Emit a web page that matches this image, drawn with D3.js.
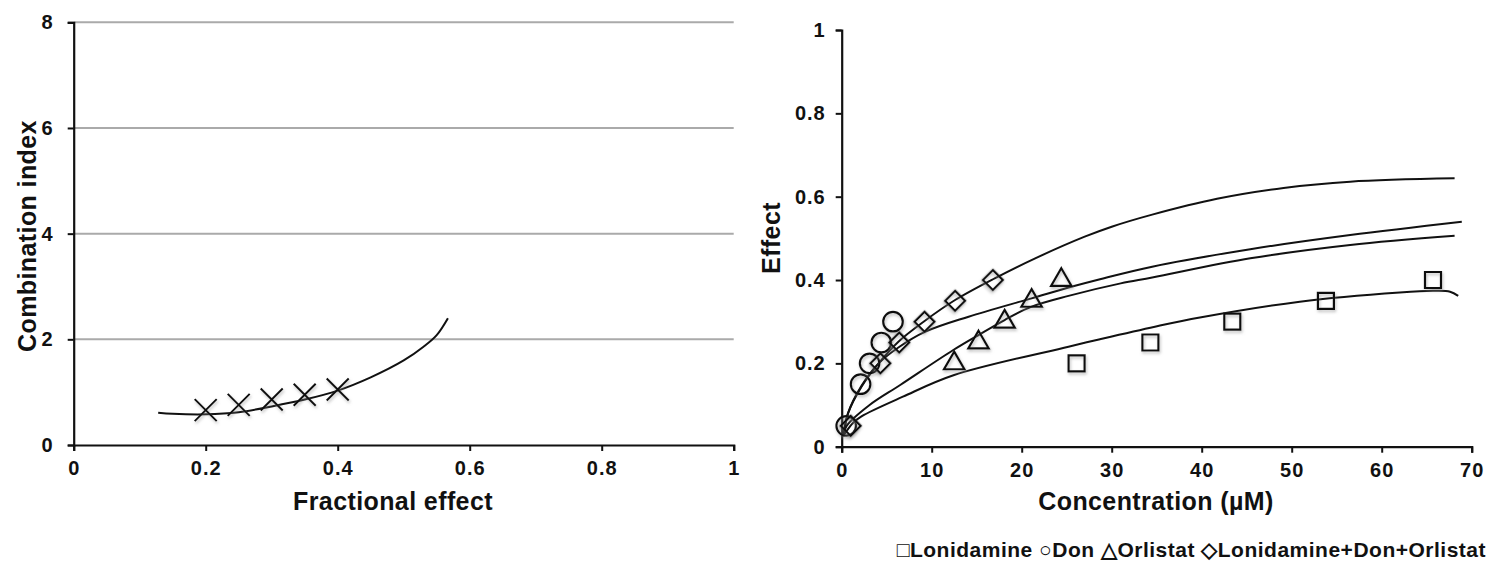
<html>
<head>
<meta charset="utf-8">
<script src="https://d3js.org/d3.v7.min.js"></script>
<style>
    body { margin: 0; background: #fff; }
    svg { font-family: "Liberation Sans", Arial, sans-serif; }
    .tick text { font-weight: bold; font-size: 20px; letter-spacing: 1px; fill: #111; }
    .title { font-weight: bold; font-size: 25px; letter-spacing: 0.4px; fill: #111; }
    .legend { font-weight: bold; font-size: 21px; letter-spacing: 0.5px; fill: #111; }
</style>
</head>
<body>
<script>
// ---- left panel: combination index vs fractional effect
var ciTicksX = [0, 0.2, 0.4, 0.6, 0.8, 1];
var ciTicksY = [0, 2, 4, 6, 8];
var ciPointsFa = [0.2, 0.25, 0.3, 0.35, 0.4];
var ciPointsCI = [0.66, 0.76, 0.86, 0.95, 1.05];
var ciCurveFa = [0.128, 0.15, 0.2, 0.25, 0.3, 0.35, 0.4, 0.45, 0.5, 0.53, 0.55, 0.567];
var ciCurveCI = [0.61, 0.59, 0.58, 0.62, 0.73, 0.86, 1.03, 1.28, 1.60, 1.86, 2.08, 2.40];

// ---- right panel: dose-effect
var concTicks = [0, 10, 20, 30, 40, 50, 60, 70];
var effTicks = [0, 0.2, 0.4, 0.6, 0.8, 1];
var lonConc = [26.1, 34.3, 43.4, 53.8, 65.7];
var lonEff = [0.2, 0.25, 0.3, 0.35, 0.4];
var donConc = [0.5, 2.1, 3.1, 4.4, 5.7];
var donEff = [0.05, 0.15, 0.2, 0.25, 0.3];
var orlConc = [12.5, 15.2, 18.1, 21.1, 24.4];
var orlEff = [0.2, 0.25, 0.3, 0.35, 0.4];
var comboConc = [1.0, 4.3, 6.4, 9.2, 12.6, 16.8];
var comboEff = [0.05, 0.2, 0.25, 0.3, 0.35, 0.4];

// fitted curves
var fitCombo = [[0.2,0.025],[0.7,0.08],[2.2,0.144],[4.1,0.2],[6.3,0.252],[9.1,0.3],[12.6,0.352],[17,0.404],[21.5,0.452],[27,0.504],[30,0.528],[34.5,0.557],[41.7,0.595],[49.1,0.621],[56.5,0.636],[68.1,0.644]];
var fitDon = [[0.2,0.025],[0.7,0.08],[2.2,0.146],[4.1,0.2],[6.3,0.238],[9.3,0.276],[14.1,0.312],[21.1,0.356],[25.2,0.382],[28.7,0.402],[34.5,0.432],[45.4,0.474],[56.5,0.508],[68.9,0.54]];
var fitOrl = [[0.2,0.03],[0.55,0.05],[3.1,0.1],[6.5,0.148],[12.4,0.232],[15.2,0.268],[18.1,0.304],[21.1,0.336],[25.2,0.362],[31,0.392],[34.5,0.406],[45.4,0.452],[56.5,0.484],[68.1,0.506]];
var fitLon = [[0.3,0.03],[1.3,0.058],[2.2,0.073],[6.8,0.12],[12.5,0.172],[25.2,0.24],[28.7,0.258],[34.8,0.288],[39.8,0.31],[50.9,0.348],[62,0.37],[65.7,0.374],[67.6,0.372],[68.5,0.362]];

var legendText = "\u25A1Lonidamine \u25CBDon  \u25B3Orlistat \u25C7Lonidamine+Don+Orlistat";

var width = 1500, height = 575;

var svg = d3.select("body").append("svg")
    .attr("width", width)
    .attr("height", height);

var defs = svg.append("defs");
var f = defs.append("filter").attr("id", "shadow")
    .attr("x", "-50%").attr("y", "-50%").attr("width", "200%").attr("height", "200%");
f.append("feDropShadow").attr("dx", 1).attr("dy", 2).attr("stdDeviation", 1.5)
    .attr("flood-color", "#888").attr("flood-opacity", 0.55);

// ================= left =================
var x1 = d3.scaleLinear().domain([0, 1]).range([73.7, 733.7]);
var y1 = d3.scaleLinear().domain([0, 8]).range([445, 22.3]);

var g1 = svg.append("g");

g1.selectAll(".grid")
    .data(ciTicksY.filter(function(d) { return d > 0; }))
    .enter().append("line")
    .attr("x1", x1(0)).attr("x2", x1(1))
    .attr("y1", function(d) { return y1(d); })
    .attr("y2", function(d) { return y1(d); })
    .attr("stroke", "#aaa").attr("stroke-width", 2);

var ax1 = g1.append("g").attr("transform", "translate(0," + y1(0) + ")")
    .call(d3.axisBottom(x1).tickValues(ciTicksX).tickSize(6).tickPadding(10)
        .tickFormat(function(d) { return d3.format("")(d); }));
var ay1 = g1.append("g").attr("transform", "translate(" + x1(0) + ",0)")
    .call(d3.axisLeft(y1).tickValues(ciTicksY).tickSize(6).tickPadding(10));
[ax1, ay1].forEach(function(a) {
    a.select(".domain").attr("stroke", "#111").attr("stroke-width", 2.2);
    a.selectAll(".tick line").attr("stroke", "#111").attr("stroke-width", 2);
});
ay1.selectAll(".tick text").attr("dx", "-4");

var ciCurve = ciCurveFa.map(function(d, i) { return [d, ciCurveCI[i]]; });
g1.append("path")
    .datum(ciCurve)
    .attr("fill", "none").attr("stroke", "#111").attr("stroke-width", 2)
    .attr("d", d3.line()
        .x(function(d) { return x1(d[0]); })
        .y(function(d) { return y1(d[1]); })
        .curve(d3.curveCatmullRom));

var xs = 11;
g1.selectAll(".xmark")
    .data(ciPointsFa)
    .enter().append("path")
    .attr("filter", "url(#shadow)")
    .attr("fill", "none").attr("stroke", "#111").attr("stroke-width", 2)
    .attr("d", function(d, i) {
        var cx = x1(d), cy = y1(ciPointsCI[i]);
        return "M" + (cx - xs) + "," + (cy - xs) + "L" + (cx + xs) + "," + (cy + xs) +
               "M" + (cx - xs) + "," + (cy + xs) + "L" + (cx + xs) + "," + (cy - xs);
    });

g1.append("text").attr("class", "title")
    .attr("x", 393).attr("y", 510).attr("text-anchor", "middle")
    .text("Fractional effect");
g1.append("text").attr("class", "title")
    .attr("transform", "translate(36,236) rotate(-90)")
    .attr("text-anchor", "middle")
    .text("Combination index");

// ================= right =================
var x2 = d3.scaleLinear().domain([0, 70]).range([841.7, 1471.7]);
var y2 = d3.scaleLinear().domain([0, 1]).range([446.7, 30]);

var g2 = svg.append("g");

var ax2 = g2.append("g").attr("transform", "translate(0," + y2(0) + ")")
    .call(d3.axisBottom(x2).tickValues(concTicks).tickSize(6).tickPadding(10));
var ay2 = g2.append("g").attr("transform", "translate(" + x2(0) + ",0)")
    .call(d3.axisLeft(y2).tickValues(effTicks).tickSize(6).tickPadding(10)
        .tickFormat(function(d) { return d3.format("")(d); }));
[ax2, ay2].forEach(function(a) {
    a.select(".domain").attr("stroke", "#111").attr("stroke-width", 2.2);
    a.selectAll(".tick line").attr("stroke", "#111").attr("stroke-width", 2);
});

var line2 = d3.line()
    .x(function(d) { return x2(d[0]); })
    .y(function(d) { return y2(d[1]); })
    .curve(d3.curveCatmullRom);

g2.selectAll(".fit")
    .data([fitCombo, fitDon, fitOrl, fitLon])
    .enter().append("path")
    .attr("fill", "none").attr("stroke", "#111").attr("stroke-width", 2)
    .attr("d", line2);

function markers(cx, cy, type, size, rot) {
    g2.selectAll(null)
        .data(cx)
        .enter().append("path")
        .attr("filter", "url(#shadow)")
        .attr("fill", "none").attr("stroke", "#111").attr("stroke-width", 2.2)
        .attr("transform", function(d, i) {
            return "translate(" + x2(d) + "," + y2(cy[i]) + ") rotate(" + rot + ")";
        })
        .attr("d", d3.symbol().type(type).size(size));
}
markers(lonConc, lonEff, d3.symbolSquare, 256, 0);
markers(donConc, donEff, d3.symbolCircle, 300, 0);
markers(orlConc, orlEff, d3.symbolTriangle, 180, 0);
markers(comboConc, comboEff, d3.symbolSquare, 200, 45);

g2.append("text").attr("class", "title")
    .attr("x", 1156).attr("y", 510).attr("text-anchor", "middle")
    .text("Concentration (\u00B5M)");
g2.append("text").attr("class", "title")
    .attr("transform", "translate(780,238) rotate(-90)")
    .attr("text-anchor", "middle")
    .text("Effect");

g2.append("text").attr("class", "legend")
    .attr("x", 1486).attr("y", 557).attr("text-anchor", "end")
    .text(legendText);
</script>
</body>
</html>
